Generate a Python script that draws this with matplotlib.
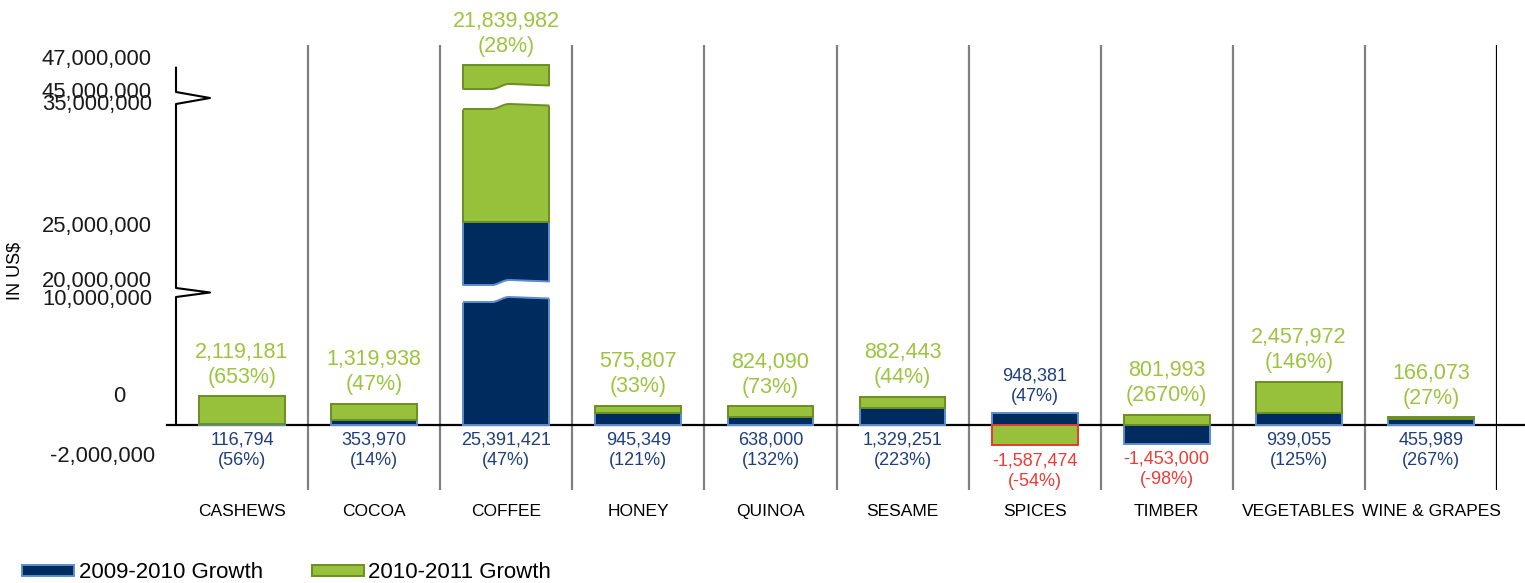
import numpy as np
import matplotlib.pyplot as plt
from matplotlib.patches import Patch
from matplotlib.transforms import ScaledTranslation

plt.rcParams['font.family'] = ['Liberation Sans', 'DejaVu Sans']

# data
categories = ['CASHEWS', 'COCOA', 'COFFEE', 'HONEY', 'QUINOA', 'SESAME',
              'SPICES', 'TIMBER', 'VEGETABLES', 'WINE & GRAPES']
growth_0910 = [116794, 353970, 25391421, 945349, 638000, 1329251,
               948381, -1453000, 939055, 455989]
pct_0910 = [56, 14, 47, 121, 132, 223, 47, -98, 125, 267]
growth_1011 = [2119181, 1319938, 21839982, 575807, 824090, 882443,
               -1587474, 801993, 2457972, 166073]
pct_1011 = [653, 47, 28, 33, 73, 44, -54, 2670, 146, 27]

y_ticks = [-2000000, 0, 10000000, 20000000, 25000000, 35000000, 45000000, 47000000]
axis_breaks = [(10000000, 20000000), (35000000, 45000000)]

# colours
navy, navy_edge = '#002B5F', '#5B8ED0'
green, green_edge = '#97C13A', '#6B8E23'
red = '#EE3B35'
navy_text, green_text = '#1F3F7C', '#9CC43E'

# broken y axis: piecewise linear scale (output unit ~ pixel)
knot_v = [-20e6, 0, 10e6, 20e6, 35e6, 45e6, 60e6]
knot_h = [-256, 0, 128, 137, 321, 333, 333 + 15 * 12.1]


def fwd(v):
    return np.interp(v, knot_v, knot_h)


def inv(h):
    return np.interp(h, knot_h, knot_v)


fig = plt.figure(figsize=(15.25, 5.83), dpi=100)
ax = fig.add_axes([176 / 1525, 1 - 490 / 583, 1321 / 1525, 445 / 583])
ax.set_yscale('function', functions=(fwd, inv))
ax.set_ylim(inv(-65), inv(380))

x = np.arange(len(categories))
blue = np.array(growth_0910, dtype=float)
grn = np.array(growth_1011, dtype=float)
same_sign = np.sign(blue) == np.sign(grn)
green_bottom = np.where(same_sign, blue, 0)
pos_top = np.clip(blue, 0, None) + np.clip(grn, 0, None)
neg_bottom = np.clip(blue, None, 0) + np.clip(grn, None, 0)

width = 0.65
ax.bar(x, blue, width, color=navy, edgecolor=navy_edge, linewidth=1.4, zorder=3)
green_edges = [green_edge if g > 0 else '#E5392B' for g in grn]
ax.bar(x, grn, width, bottom=green_bottom, color=green, edgecolor=green_edges,
       linewidth=1.4, zorder=3)

# white wavy gaps on bars crossing the axis breaks
def wave(t):
    r = np.clip((t - 0.33) / 0.2, 0, 1)
    r = r * r * (3 - 2 * r)
    return 5 * r - 1.5 * np.clip((t - 0.55) / 0.45, 0, 1)


for i in x:
    for lo, hi in axis_breaks:
        if pos_top[i] <= hi:
            continue
        edge = navy_edge if (blue[i] > 0 and lo < blue[i]) else green_edge
        xs = np.linspace(i - width / 2 - 0.03, i + width / 2 + 0.03, 120)
        t = np.clip((xs - (i - width / 2)) / width, 0, 1)
        low = fwd(lo) - 5 + wave(t)
        up = fwd(hi) + 3 + wave(t)
        ax.fill_between(xs, inv(low), inv(up), color='white', lw=0, zorder=4)
        inside = (xs >= i - width / 2) & (xs <= i + width / 2)
        ax.plot(xs[inside], inv(low[inside]), color=edge, lw=1.4, zorder=5)
        ax.plot(xs[inside], inv(up[inside]), color=edge, lw=1.4, zorder=5)

# value labels
def put(xi, y, txt, above, color, size, ls):
    ax.annotate(txt, (xi, y), xytext=(0, 6 if above else -5), textcoords='offset points',
                ha='center', va='bottom' if above else 'top', color=color,
                fontsize=size, linespacing=ls, zorder=6, annotation_clip=False)


for i in x:
    gtxt = f'{int(grn[i]):,}\n({pct_1011[i]}%)'
    btxt = f'{int(blue[i]):,}\n({pct_0910[i]}%)'
    if grn[i] > 0:
        put(i, pos_top[i], gtxt, True, green_text, 15.5, 1.25)
    else:
        put(i, neg_bottom[i], gtxt, False, red, 13, 1.25)
    if blue[i] < 0:
        put(i, neg_bottom[i], btxt, False, red, 13, 1.25)
    elif grn[i] < 0:
        put(i, pos_top[i], btxt, True, navy_text, 13, 1.25)
    else:
        put(i, 0, btxt, False, navy_text, 13, 1.25)

# frame: separators, zero line, broken spine
for s in ax.spines.values():
    s.set_visible(False)
for b in x[:-1] + 0.5:
    ax.axvline(b, color='#808080', lw=1.6, zorder=1)
ax.axvline(x[-1] + 0.5, color='black', lw=1.6, zorder=1)
ax.set_xlim(-0.5, x[-1] + 0.5)

yt = ax.get_yaxis_transform()
ax.plot([-9 / 1321, 1349 / 1321], [0, 0], color='black', lw=1.6,
        transform=yt, clip_on=False, zorder=2)
tip = 34 / 1321
sx, sy = [0], [0]
for lo, hi in axis_breaks:
    sx += [0, tip, 0]
    sy += [lo, inv((fwd(lo) + fwd(hi)) / 2), hi]
sx.append(0)
sy.append(y_ticks[-1])
ax.plot(sx, sy, color='black', lw=1.5, transform=yt, clip_on=False, zorder=2)

# y tick labels (hand placed like the original)
ax.set_yticks([])
ax.minorticks_off()
nudge = {0: (-27, 28), 20000000: (0, 7), 47000000: (0, 8), 10000000: (0, -3),
         -2000000: (3, -6)}
for v in y_ticks:
    dx, dy = nudge.get(v, (0, 0))
    off = ScaledTranslation((dx - 24) / 100, dy / 100, fig.dpi_scale_trans)
    ax.text(0, v, f'{v:,}', transform=yt + off, ha='right', va='center',
            fontsize=15.8, color='#1a1a1a')

ax.set_xticks(x, categories)
ax.tick_params(axis='x', length=0, pad=10, labelsize=12.5)

fig.text(15 / 1525, 1 - 271 / 583, 'IN US$', rotation=90, ha='center', va='center',
         fontsize=13)

handles = [Patch(facecolor=navy, edgecolor=navy_edge, linewidth=1.4),
           Patch(facecolor=green, edgecolor=green_edge, linewidth=1.4)]
fig.legend(handles, ['2009-2010 Growth', '2010-2011 Growth'], loc='center left',
           bbox_to_anchor=(22 / 1525, 1 - 573 / 583), ncol=2, frameon=False,
           borderaxespad=0, borderpad=0, handlelength=2.35, handleheight=0.32,
           handletextpad=0.2, columnspacing=2.2, fontsize=16)

fig.savefig('out.png', dpi=100)
